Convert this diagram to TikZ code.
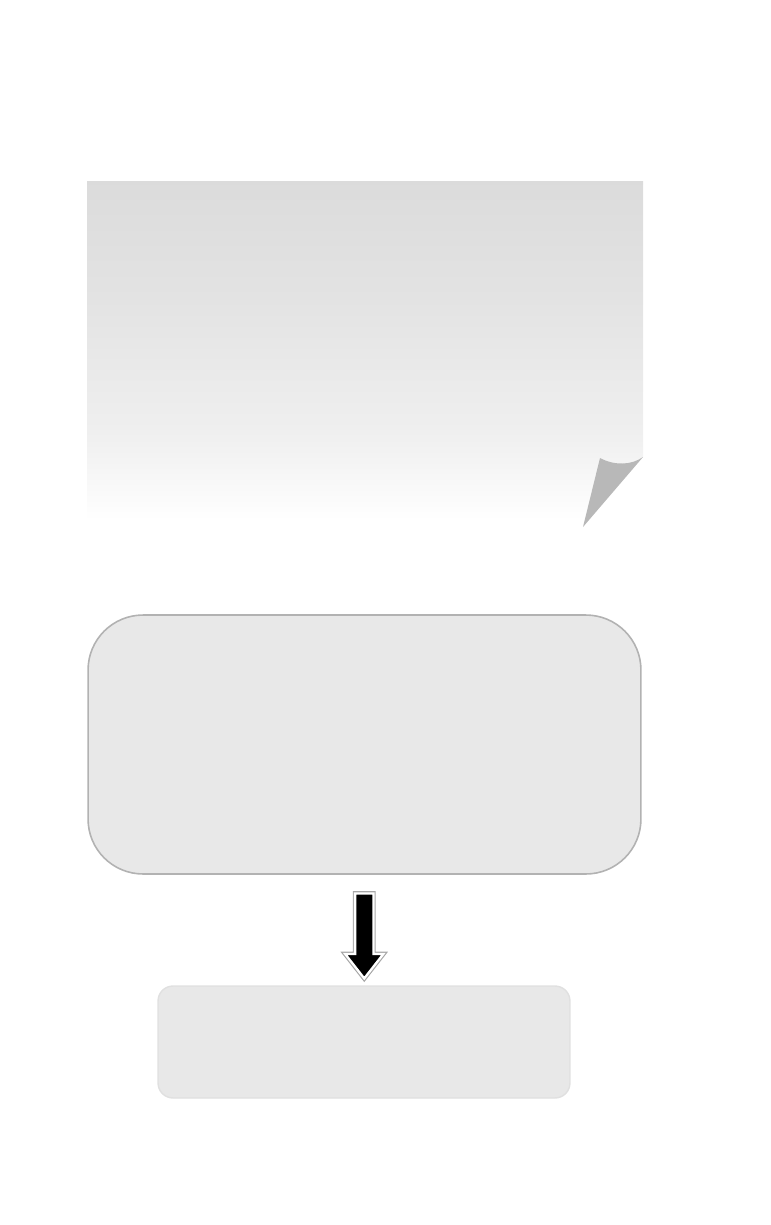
\documentclass[tikz,border=0pt]{standalone}
\usetikzlibrary{shapes.arrows,calc}

\pgfdeclareverticalshading{sheetfade}{100bp}{color(0bp)=(white); color(26bp)=(white); color(38bp)=(black!6); color(58bp)=(black!11); color(75bp)=(black!14); color(100bp)=(black!14)}

\begin{document}
\begin{tikzpicture}[x=0.02cm, y=-0.02cm,
		roundbox/.style={rectangle, rounded corners=1.1cm, draw=black!30, line width=0.9pt, fill=black!9, minimum width=11.06cm, minimum height=5.18cm},
		flatbox/.style={rectangle, rounded corners=0.3cm, draw=black!12, line width=0.8pt, fill=black!9, minimum width=8.24cm, minimum height=2.24cm},
		downarrow/.style={single arrow, rotate=-90, fill=black, draw=white, line width=1.3pt,
			preaction={draw=black!35, line width=2.6pt},
			inner xsep=0pt, inner ysep=0.16cm, minimum height=1.7cm,
			single arrow head extend=0.2cm, single arrow tip angle=76}]
				\useasboundingbox (0,0) rectangle (771,1225);

				% Draw sheet with fold
				\shade[shading=sheetfade]
					(87,181) -- (643,181) -- (643,457) -- (583,527) -- (87,527) -- cycle;
				\fill[black!28]
					(600,458) .. controls (615,466) and (632,465) .. (643,457) -- (583,527) -- cycle;

				% Draw boxes
				\node[roundbox] (bigbox) at (364.5,744.5) {};
				\node[flatbox] (smallbox) at (364,1042) {};

				% Arrow
				\node[downarrow] (arrow) at ($(bigbox.south)!0.5!(smallbox.north)$) {};
			\end{tikzpicture}
\end{document}
